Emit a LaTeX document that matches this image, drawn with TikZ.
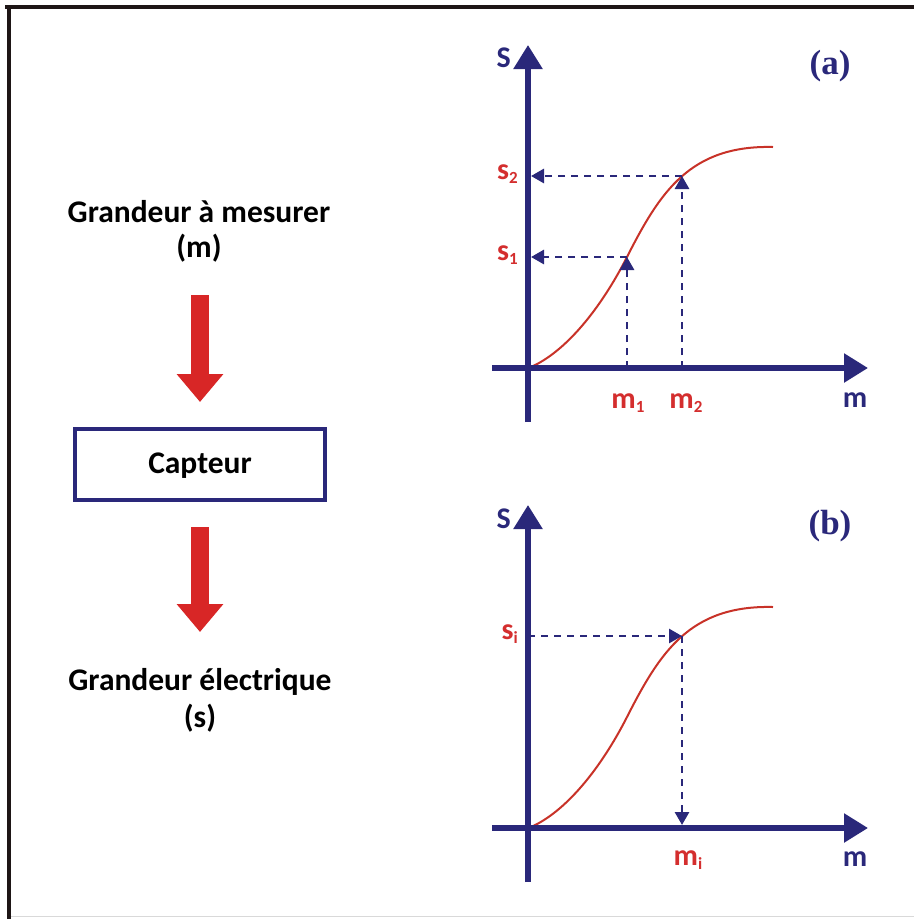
\documentclass[tikz,border=0pt]{standalone}
\usepackage{fontspec}
\setmainfont{Carlito}
\newfontfamily\serifbf{Liberation Serif}
\usetikzlibrary{arrows.meta}
\definecolor{navy}{RGB}{42,40,122}
\definecolor{lblred}{RGB}{212,46,46}
\definecolor{curvered}{RGB}{200,50,40}
\definecolor{arrred}{RGB}{216,38,38}
\definecolor{framec}{RGB}{30,22,22}
\newcommand{\sub}[1]{{\fontsize{17}{17}\selectfont\raisebox{-4.5pt}{#1}}}
\begin{document}
\begin{tikzpicture}[x=1pt,y=-1pt,
  axis/.style={navy,line width=5.5pt,-{Triangle[length=24pt,width=28pt]}},
  dasharrow/.style={navy,line width=2.8pt,dash pattern=on 7pt off 6pt,-{Triangle[length=13pt,width=14pt]}},
  curve/.style={curvered,line width=2pt},
  lbl/.style={font=\fontsize{30}{32}\selectfont\bfseries,inner sep=0pt},
  panel/.style={font=\fontsize{35}{38}\selectfont\bfseries\serifbf,text=navy,inner sep=0pt},
  bigtext/.style={font=\fontsize{31.5}{36}\selectfont\bfseries,inner sep=0pt},
  blockarrow/.style={arrred,line width=18pt,-{Triangle[length=28pt,width=45pt]}},
]
\useasboundingbox (0,0) rectangle (914,919);
\fill[white] (0,0) rectangle (914,919);
% frame
\draw[framec,line width=4.5pt] (5,7) -- (914,7);
\draw[framec,line width=4.5pt] (9,5) -- (9,919);
\draw[black!15,line width=1pt] (11,916) -- (914,916);

% left flow
\node[bigtext,anchor=base] (gin) at (199,222) {Grandeur à mesurer};
\node[bigtext,anchor=base] (gm) at (199,257) {(m)};
\node[bigtext,draw=navy,line width=4pt,minimum width=250pt,minimum height=71pt,
      text height=17pt,text depth=0pt] (cap) at (200,464.5) {Capteur};
\node[bigtext,anchor=base] (gout) at (200,690) {Grandeur électrique};
\node[bigtext,anchor=base] (gs) at (200,727) {(s)};
\coordinate (a1s) at (200,295);
\coordinate (a2e) at (200,632);
\draw[blockarrow] (a1s) -- ([yshift=25pt]cap.north);
\draw[blockarrow] ([yshift=-25pt]cap.south) -- (a2e);

% graph (a)
\coordinate (Oa) at (528,368);
\coordinate (P1) at (627,257);
\coordinate (P2) at (682,176);
\draw[curve] (531,367) .. controls (565,352) and (600,310) .. (627,257)
                       .. controls (660,192) and (690,145) .. (773,147);
\draw[axis] (528,422) -- (528,45);
\draw[axis] (492,368) -- (868,368);
\draw[dasharrow] (P1 |- Oa) -- (P1);
\draw[dasharrow,shorten >=3pt] (P1) -- (P1 -| Oa);
\draw[dasharrow] (P2 |- Oa) -- (P2);
\draw[dasharrow,shorten >=3pt] (P2) -- (P2 -| Oa);
\node[lbl,text=navy,anchor=base east] (Sa) at (511,67) {S};
\node[lbl,text=navy,anchor=base] (ma) at (855,407) {m};
\node[lbl,text=lblred,anchor=base] (m1) at (628,408) {m\sub{1}};
\node[lbl,text=lblred,anchor=base] (m2) at (686,408) {m\sub{2}};
\node[lbl,text=lblred,anchor=base east] (s1) at (518,260) {s\sub{1}};
\node[lbl,text=lblred,anchor=base east] (s2) at (518,179) {s\sub{2}};
\node[panel,anchor=base] (pa) at (830,74) {(a)};

% graph (b)
\coordinate (Ob) at (528,828);
\coordinate (Pi) at (682,636);
\draw[curve] (531,827) .. controls (565,812) and (600,770) .. (627,717)
                       .. controls (660,652) and (690,605) .. (773,607);
\draw[axis] (528,882) -- (528,505);
\draw[axis] (492,828) -- (868,828);
\draw[dasharrow] (Pi -| Ob) -- (Pi);
\draw[dasharrow,shorten >=3pt] (Pi) -- (Pi |- Ob);
\node[lbl,text=navy,anchor=base east] (Sb) at (511,528) {S};
\node[lbl,text=navy,anchor=base] (mb) at (855,866) {m};
\node[lbl,text=lblred,anchor=base] (mi) at (688,865) {m\sub{i}};
\node[lbl,text=lblred,anchor=base east] (si) at (518,639) {s\sub{i}};
\node[panel,anchor=base] (pb) at (830,534) {(b)};
\end{tikzpicture}
\end{document}
